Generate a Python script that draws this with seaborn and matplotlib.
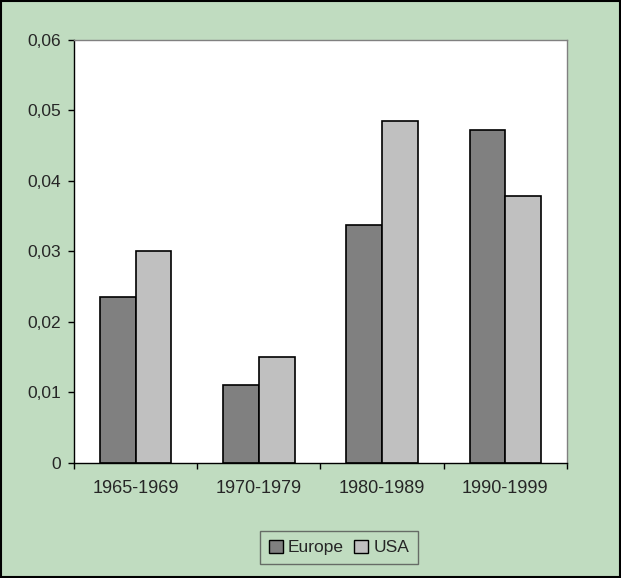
import matplotlib
matplotlib.use("Agg")
import matplotlib.pyplot as plt
import seaborn as sns
import pandas as pd
from matplotlib.patches import Rectangle

categories = ["1965-1969", "1970-1979", "1980-1989", "1990-1999"]
europe = [0.0235, 0.011, 0.0338, 0.0473]
usa = [0.030, 0.015, 0.0485, 0.0379]
series = ["Europe", "USA"]
yticks = [0, 0.01, 0.02, 0.03, 0.04, 0.05, 0.06]
ytick_labels = ["0", "0,01", "0,02", "0,03", "0,04", "0,05", "0,06"]

df = pd.DataFrame({
    "period": categories * 2,
    "value": europe + usa,
    "series": ["Europe"] * 4 + ["USA"] * 4,
})

sns.set_style("white")
plt.rcParams["font.family"] = ["Liberation Sans", "DejaVu Sans"]

fig = plt.figure(figsize=(6.21, 5.78), dpi=100)
fig.patch.set_facecolor("#C0DCC0")
ax = fig.add_axes([0.1192, 0.199, 0.7938, 0.7318])
sns.barplot(data=df, x="period", y="value", hue="series", order=categories,
            hue_order=series, palette={"Europe": "#808080", "USA": "#C0C0C0"},
            width=0.58, edgecolor="black", linewidth=1.2, ax=ax, legend=False)
ax.set_xlim(-0.5, 3.5)
ax.set_ylim(0, 0.06)
ax.set_yticks(yticks)
ax.set_yticklabels(ytick_labels, fontsize=12.5)
ax.set_xticks(range(4))
ax.set_xticklabels(categories, fontsize=13)
ax.set_xticks([-0.5, 0.5, 1.5, 2.5, 3.5], minor=True)
ax.tick_params(axis="x", which="major", bottom=True, length=0, pad=12)
ax.tick_params(axis="x", which="minor", bottom=True, length=4, width=1,
               color="black", direction="out")
ax.tick_params(axis="y", which="major", left=True, length=4, width=1,
               color="black", direction="out", pad=5.5)
ax.set_xlabel("")
ax.set_ylabel("")
for s in ["left", "bottom"]:
    ax.spines[s].set_color("black")
    ax.spines[s].set_linewidth(1)
for s in ["top", "right"]:
    ax.spines[s].set_color("#808080")
    ax.spines[s].set_linewidth(1)

handles = [Rectangle((0, 0), 1, 1, facecolor="#808080", edgecolor="black"),
           Rectangle((0, 0), 1, 1, facecolor="#C0C0C0", edgecolor="black")]
leg = fig.legend(handles, series, loc="center", bbox_to_anchor=(0.546, 0.053),
                 ncol=2, frameon=True, fontsize=12.5, handlelength=0.8,
                 handleheight=0.8, handletextpad=0.3, columnspacing=0.6,
                 borderpad=0.5, borderaxespad=0, fancybox=False)
leg.get_frame().set_facecolor("#C0DCC0")
leg.get_frame().set_edgecolor("#505050")
leg.get_frame().set_linewidth(1)

fig.add_artist(Rectangle((0.001, 0.001), 0.997, 0.997, transform=fig.transFigure,
                         fill=False, edgecolor="black", linewidth=1.5))
fig.savefig("out.png", dpi=100, facecolor=fig.get_facecolor())
